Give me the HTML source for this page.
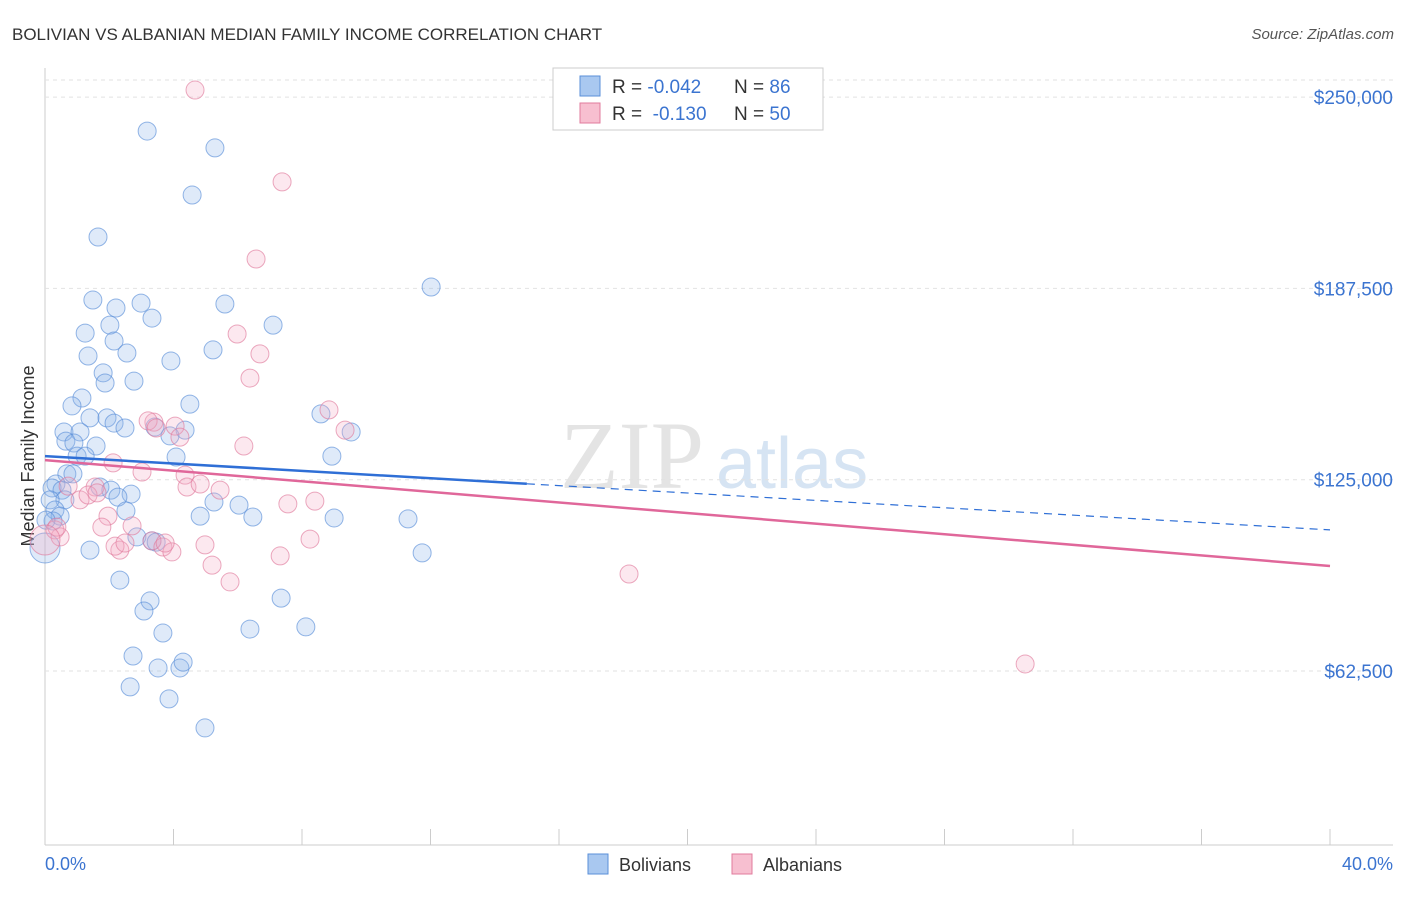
<!DOCTYPE html>
<html><head><meta charset="utf-8"><style>
body{margin:0;background:#fff;font-family:"Liberation Sans",sans-serif}
</style></head><body>
<svg id="c" width="1406" height="892" xmlns="http://www.w3.org/2000/svg">
<text x="12" y="40" font-size="17" fill="#333">BOLIVIAN VS ALBANIAN MEDIAN FAMILY INCOME CORRELATION CHART</text>
<text x="1394" y="39" font-size="15" fill="#555" text-anchor="end" font-style="italic">Source: ZipAtlas.com</text>
<text x="560" y="488" font-size="96" fill="#e4e4e4" font-family="Liberation Serif">ZIP</text>
<text x="716" y="488" font-size="72" fill="#d6e4f3">atlas</text>
<text transform="translate(34,456) rotate(-90)" font-size="18" fill="#333" text-anchor="middle">Median Family Income</text>
<g id="grid"></g><g id="pts"></g><g id="lines"></g>
<text x="45" y="870" font-size="18" fill="#3b74d0">0.0%</text>
<text x="1393" y="870" font-size="18" fill="#3b74d0" text-anchor="end">40.0%</text>
<g>
<rect x="553" y="68" width="270" height="62" fill="#fff" stroke="#ccc"/>
<rect x="580" y="76" width="20" height="20" fill="#a9c8f0" stroke="#5a8fd8"/>
<rect x="580" y="103" width="20" height="20" fill="#f7bfd0" stroke="#e07b9d"/>
<text x="612" y="93" font-size="19" fill="#333" xml:space="preserve">R = <tspan fill="#3b74d0">-0.042</tspan><tspan x="734">N = </tspan><tspan fill="#3b74d0">86</tspan></text>
<text x="612" y="120" font-size="19" fill="#333" xml:space="preserve">R = <tspan fill="#3b74d0">&#160;-0.130</tspan><tspan x="734">N = </tspan><tspan fill="#3b74d0">50</tspan></text>
</g>
<g>
<rect x="588" y="854" width="20" height="20" fill="#a9c8f0" stroke="#5a8fd8"/>
<text x="619" y="871" font-size="18" fill="#333">Bolivians</text>
<rect x="732" y="854" width="20" height="20" fill="#f7bfd0" stroke="#e07b9d"/>
<text x="763" y="871" font-size="18" fill="#333">Albanians</text>
</g>
</svg>
<script>
const yTicks=[62500,125000,187500,250000];
const yTickLabels=["$62,500","$125,000","$187,500","$250,000"];
const bolX=[3.18,5.29,4.58,1.65,12.02,1.49,2.99,2.21,5.60,3.33,2.02,7.10,1.25,2.15,2.55,1.34,5.23,3.92,1.81,1.87,2.77,1.15,0.84,4.51,1.40,1.93,2.15,2.49,0.59,1.09,3.42,4.36,8.59,9.53,0.65,0.90,1.59,3.89,1.00,1.25,4.08,8.93,0.68,0.87,0.34,0.22,0.53,1.71,2.05,2.68,2.27,5.26,6.04,0.62,0.16,0.31,0.47,2.52,4.83,6.47,9.00,11.30,0.25,2.86,3.33,3.46,1.40,11.74,2.33,3.27,3.08,7.35,3.67,6.38,8.12,2.74,3.52,4.20,4.30,2.65,3.86,4.98,0.03,0.0];
const bolY=[238900,233400,218000,204300,187950,183700,182700,181100,182400,177800,175500,175500,172900,170300,166400,165400,167400,163800,159900,156600,157200,151700,149100,149700,145200,145200,143500,141900,140600,140600,142200,141200,146500,140600,137600,137000,136000,139300,132700,132700,132400,132700,126900,126900,123600,122300,121600,122600,121600,120300,119300,117700,116700,118400,118400,115100,113100,114800,113100,112800,112500,112200,111500,106300,105000,104600,102000,101100,92200,85400,82100,86300,74900,76200,76900,67400,63500,63500,65400,57300,53400,43900,111800,102700];
const albX=[4.67,7.38,6.57,5.98,6.69,6.38,8.84,3.39,3.21,3.46,4.05,4.20,9.34,6.19,2.12,3.02,4.36,4.42,4.83,1.56,0.72,1.09,1.34,1.62,5.45,7.56,8.40,1.96,1.77,2.71,0.31,0.47,3.33,3.67,2.33,2.18,3.95,4.98,7.32,8.25,5.20,5.76,18.18,30.51,2.49,3.74,0.37,0.0];
const albY=[252300,222300,197100,172600,166100,158200,147800,143800,144200,141900,142500,138900,141200,136000,130500,127500,126500,122600,123600,122600,122900,118400,120000,120700,121600,117100,118000,113100,109500,109900,108600,106300,105000,103000,102000,103300,101400,103700,100100,105600,97100,91600,94200,64800,104300,104300,109500,105300];
const bolTrend=[132700,108600];
const albTrend=[131400,96800];
const NS="http://www.w3.org/2000/svg";
const xs=p=>45+p*32.125;
const ys=v=>671-(v-62500)/62500*191.3;
function mk(tag,attrs,parent){const e=document.createElementNS(NS,tag);for(const k in attrs)e.setAttribute(k,attrs[k]);parent.appendChild(e);return e;}
const g=document.getElementById('grid');
let ax=mk('line',{x1:45,y1:68,x2:45,y2:845,stroke:'#ccc'},g);


let bx=mk('line',{x1:45,y1:845,x2:1393,y2:845,stroke:'#ccc'},g);


let tl=mk('line',{x1:45,y1:80,x2:1393,y2:80,stroke:'#e2e2e2','stroke-dasharray':'4,4'},g);


yTicks.forEach((v,i)=>{
 const l=mk('line',{x1:45,y1:ys(v),x2:1393,y2:ys(v),stroke:'#e2e2e2','stroke-dasharray':'4,4'},g);
 
 
 const t=mk('text',{x:1393,y:ys(v)+7,'font-size':19,fill:'#3b74d0','text-anchor':'end'},g);
 t.textContent=yTickLabels[i];
 
 
});
for(let p=0;p<=40;p+=4){
 const l=mk('line',{x1:xs(p),y1:829,x2:xs(p),y2:845,stroke:'#ccc'},g);
 
 
}
const pg=document.getElementById('pts');
function pts(X,Y,fill,stroke,name){
 X.forEach((x,i)=>{
  const big=(x===0);
  const c=mk('circle',{cx:xs(x),cy:ys(Y[i]),r:big?15:9,fill:fill,'fill-opacity':0.28,stroke:stroke,'stroke-opacity':0.65,'stroke-width':1},pg);
  
  
 });
}
pts(bolX,bolY,'#8db5ea','#5a8fd8','bolivian-point');
pts(albX,albY,'#f5aec4','#e07b9d','albanian-point');
const lg=document.getElementById('lines');
const bAt=p=>bolTrend[0]+(bolTrend[1]-bolTrend[0])*p/40;
let l1=mk('line',{x1:xs(0),y1:ys(bAt(0)),x2:xs(15),y2:ys(bAt(15)),stroke:'#2f6fd6','stroke-width':2.5},lg);


let l2=mk('line',{x1:xs(15),y1:ys(bAt(15)),x2:xs(40),y2:ys(bAt(40)),stroke:'#2f6fd6','stroke-width':1.2,'stroke-dasharray':'8,6'},lg);


let l3=mk('line',{x1:xs(0),y1:ys(albTrend[0]),x2:xs(40),y2:ys(albTrend[1]),stroke:'#e0679a','stroke-width':2.5},lg);


</script>
</body></html>
